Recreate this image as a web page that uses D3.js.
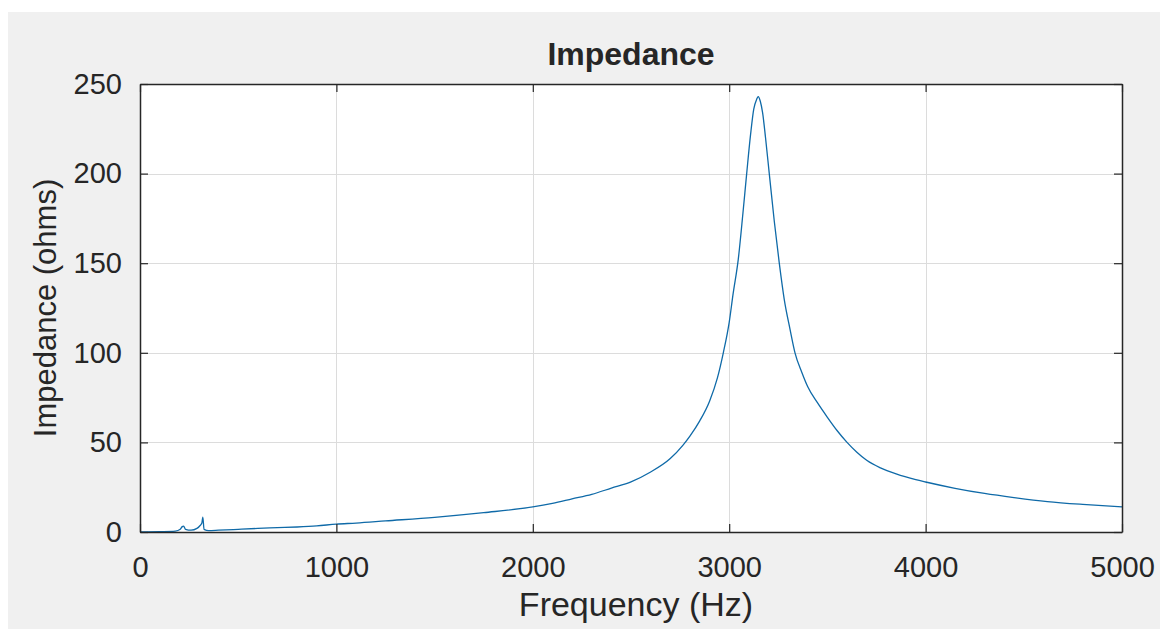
<!DOCTYPE html>
<html>
<head>
<meta charset="utf-8">
<script src="https://cdn.jsdelivr.net/npm/d3@7"></script>
<style>
  html, body { margin: 0; padding: 0; background: #ffffff; }
  svg { display: block; }
  text { font-family: "Liberation Sans", Arial, sans-serif; fill: #262626; }
</style>
</head>
<body>
<svg id="chart" width="1160" height="629"></svg>
<script>
// Data
const frequency = [0, 100, 180, 205, 215, 222, 232, 260, 290, 305, 315, 320, 326, 350, 400, 500, 600, 700, 800, 900, 1000, 1100, 1250, 1500, 1750, 2000, 2100, 2200, 2300, 2400, 2500, 2600, 2700, 2765, 2800, 2850, 2900, 2940, 2970, 3000, 3020, 3046, 3070, 3089, 3109, 3125, 3140, 3148, 3158, 3170, 3185, 3204, 3230, 3255, 3280, 3310, 3335, 3370, 3400, 3450, 3500, 3550, 3600, 3650, 3700, 3770, 3850, 3950, 4000, 4150, 4300, 4450, 4620, 4800, 5000];
const impedance = [0, 0.2, 0.5, 1.5, 3.0, 3.3, 1.5, 1.0, 2.0, 3.5, 5.0, 8.3, 1.5, 0.8, 1.0, 1.5, 2.0, 2.4, 2.8, 3.4, 4.4, 5.0, 6.2, 8.2, 10.8, 14.0, 16.0, 18.5, 21.0, 24.5, 28.0, 33.5, 41.0, 48.5, 53.5, 62.0, 73.0, 86.0, 100.0, 117.0, 133.0, 152.0, 178.0, 200.0, 222.0, 236.0, 241.5, 243.0, 240.5, 234.0, 220.0, 200.0, 173.0, 150.0, 130.0, 113.0, 100.0, 89.0, 81.0, 72.0, 64.0, 56.5, 50.0, 44.5, 40.0, 35.8, 32.4, 29.2, 27.9, 24.4, 21.5, 19.2, 17.0, 15.4, 14.0];
const xTicks = [0, 1000, 2000, 3000, 4000, 5000];
const yTicks = [0, 50, 100, 150, 200, 250];
const titleText = "Impedance";
const xLabelText = "Frequency (Hz)";
const yLabelText = "Impedance (ohms)";

const svg = d3.select("#chart");
const W = 1160, H = 629;
const plot = { left: 140, right: 1122, top: 84, bottom: 532 };

// figure background
svg.append("rect").attr("x", 8).attr("y", 12).attr("width", W - 8).attr("height", H - 12).attr("fill", "#f0f0f0");

const x = d3.scaleLinear().domain([0, 5000]).range([plot.left, plot.right]);
const y = d3.scaleLinear().domain([0, 250]).range([plot.bottom, plot.top]);

// axes background
svg.append("rect")
  .attr("x", plot.left).attr("y", plot.top)
  .attr("width", plot.right - plot.left).attr("height", plot.bottom - plot.top)
  .attr("fill", "#ffffff");

// grid
const grid = svg.append("g").attr("stroke", "#dcdcdc").attr("stroke-width", 1);
grid.selectAll("line.gx").data(xTicks.slice(1, -1)).join("line")
  .attr("x1", d => Math.round(x(d)) + 0.5).attr("x2", d => Math.round(x(d)) + 0.5)
  .attr("y1", plot.top).attr("y2", plot.bottom);
grid.selectAll("line.gy").data(yTicks.slice(1, -1)).join("line")
  .attr("y1", d => Math.round(y(d)) + 0.5).attr("y2", d => Math.round(y(d)) + 0.5)
  .attr("x1", plot.left).attr("x2", plot.right);

// data line
const line = d3.line().curve(d3.curveMonotoneX).x((d, i) => x(frequency[i])).y((d, i) => y(d));
svg.append("path")
  .datum(impedance)
  .attr("d", line)
  .attr("fill", "none")
  .attr("stroke", "#0f6aa8")
  .attr("stroke-width", 1.3)
  .attr("stroke-linejoin", "round");

// axes with inward ticks (also mirrored on top/right)
const tickLen = 8;
const axB = d3.axisBottom(x).tickValues(xTicks).tickSizeInner(-tickLen).tickSizeOuter(0).tickPadding(24).tickFormat(d3.format("d"));
const axL = d3.axisLeft(y).tickValues(yTicks).tickSizeInner(-tickLen).tickSizeOuter(0).tickPadding(18).tickFormat(d3.format("d"));
const axT = d3.axisTop(x).tickValues(xTicks).tickSizeInner(-tickLen).tickSizeOuter(0).tickFormat("");
const axR = d3.axisRight(y).tickValues(yTicks).tickSizeInner(-tickLen).tickSizeOuter(0).tickFormat("");

function style(g) {
  g.select(".domain").attr("stroke", "#262626").attr("stroke-width", 1.5);
  g.selectAll(".tick line").attr("stroke", "#262626").attr("stroke-width", 1.2);
  g.selectAll(".tick text").attr("font-size", 29).attr("fill", "#303030")
    .attr("font-family", '"Liberation Sans", Arial, sans-serif');
}
svg.append("g").attr("transform", `translate(0,${plot.bottom})`).call(axB).call(style);
svg.append("g").attr("transform", `translate(${plot.left},0)`).call(axL).call(style);
svg.append("g").attr("transform", `translate(0,${plot.top})`).call(axT).call(style);
svg.append("g").attr("transform", `translate(${plot.right},0)`).call(axR).call(style);

// title & labels
svg.append("text")
  .attr("x", (plot.left + plot.right) / 2).attr("y", 65)
  .attr("text-anchor", "middle").attr("font-size", 32).attr("font-weight", "bold")
  .attr("fill", "#000").text(titleText);
svg.append("text")
  .attr("x", 636).attr("y", 616)
  .attr("text-anchor", "middle").attr("font-size", 34).attr("fill", "#303030").text(xLabelText);
svg.append("text")
  .attr("transform", `translate(56,${(plot.top + plot.bottom) / 2}) rotate(-90)`)
  .attr("text-anchor", "middle").attr("font-size", 31).attr("fill", "#303030").text(yLabelText);
</script>
</body>
</html>
